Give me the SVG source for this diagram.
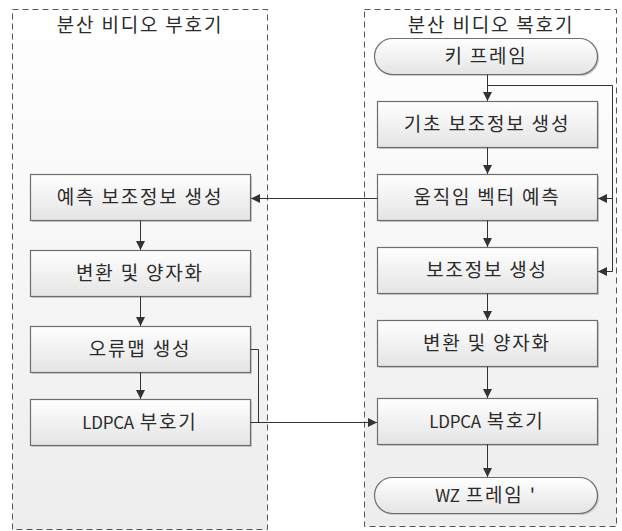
<svg xmlns="http://www.w3.org/2000/svg" width="622" height="531" viewBox="0 0 622 531">
<defs>
<linearGradient id="gBox" x1="0" y1="0" x2="0" y2="1">
<stop offset="0" stop-color="#ffffff"/>
<stop offset="1" stop-color="#e4e4e4"/>
</linearGradient>
<linearGradient id="gCont" x1="0" y1="0" x2="0" y2="1">
<stop offset="0" stop-color="#ffffff"/>
<stop offset="1" stop-color="#ededed"/>
</linearGradient>
<marker id="arr" viewBox="0 0 10 10" refX="10" refY="5" markerWidth="9" markerHeight="9" markerUnits="userSpaceOnUse" orient="auto">
<path d="M0,0 L10,5 L0,10 z" fill="#333"/>
</marker>
</defs>
<style>
.cont{fill:url(#gCont);stroke:#555;stroke-width:1;stroke-dasharray:6 4}
.box{fill:url(#gBox);stroke:#6e6e6e;stroke-width:1.2}
.sh{fill:#c8c8c8}
.t{font-family:"Noto Sans CJK KR","Noto Sans",sans-serif;font-size:19px;fill:#2b2b2b;text-anchor:middle;letter-spacing:1.8px}
.lat{font-size:17px;letter-spacing:-0.3px}
.c{fill:none;stroke:#333;stroke-width:1}
</style>
<g id="encoder">
<rect class="cont" x="12.5" y="9.5" width="255" height="520"/>
<text class="t" x="140" y="32">분산 비디오 부호기</text>
</g>
<g id="decoder">
<rect class="cont" x="364.5" y="9.5" width="252" height="517"/>
<text class="t" x="491" y="32">분산 비디오 복호기</text>
</g>
<g id="e1"><rect class="sh" x="32" y="176" width="220" height="46"/><rect class="box" x="30.5" y="174.5" width="220" height="46"/><text class="t" x="140" y="204">예측 보조정보 생성</text></g>
<g id="e2"><rect class="sh" x="32" y="252" width="220" height="46"/><rect class="box" x="30.5" y="250.5" width="220" height="46"/><text class="t" x="140" y="280">변환 및 양자화</text></g>
<g id="e3"><rect class="sh" x="32" y="328" width="220" height="46"/><rect class="box" x="30.5" y="326.5" width="220" height="46"/><text class="t" x="140" y="356">오류맵 생성</text></g>
<g id="e4"><rect class="sh" x="32" y="401" width="220" height="46"/><rect class="box" x="30.5" y="399.5" width="220" height="46"/><text class="t" x="140" y="429"><tspan class="lat">LDPCA</tspan> 부호기</text></g>
<g id="d0"><rect class="sh" x="376" y="40" width="223" height="36" rx="18"/><rect class="box" x="374.5" y="38.5" width="223" height="36" rx="18"/><text class="t" x="486" y="63">키 프레임</text></g>
<g id="d1"><rect class="sh" x="379" y="103" width="220" height="46"/><rect class="box" x="377.5" y="101.5" width="220" height="46"/><text class="t" x="487" y="131">기초 보조정보 생성</text></g>
<g id="d2"><rect class="sh" x="379" y="176" width="220" height="46"/><rect class="box" x="377.5" y="174.5" width="220" height="46"/><text class="t" x="487" y="204">움직임 벡터 예측</text></g>
<g id="d3"><rect class="sh" x="379" y="249" width="220" height="46"/><rect class="box" x="377.5" y="247.5" width="220" height="46"/><text class="t" x="487" y="277">보조정보 생성</text></g>
<g id="d4"><rect class="sh" x="379" y="322" width="220" height="46"/><rect class="box" x="377.5" y="320.5" width="220" height="46"/><text class="t" x="487" y="350">변환 및 양자화</text></g>
<g id="d5"><rect class="sh" x="379" y="400" width="220" height="46"/><rect class="box" x="377.5" y="398.5" width="220" height="46"/><text class="t" x="487" y="428"><tspan class="lat">LDPCA</tspan> 복호기</text></g>
<g id="d6"><rect class="sh" x="376" y="479" width="223" height="36" rx="18"/><rect class="box" x="374.5" y="477.5" width="223" height="36" rx="18"/><text class="t" x="486" y="502"><tspan class="lat">WZ</tspan> 프레임 '</text></g>
<g id="connectors">
<path class="c" d="M140.5,220.5 V250" marker-end="url(#arr)"/>
<path class="c" d="M140.5,296.5 V326" marker-end="url(#arr)"/>
<path class="c" d="M140.5,372.5 V399" marker-end="url(#arr)"/>
<path class="c" d="M250.5,349.5 H258.5 V422.5"/>
<path class="c" d="M250.5,422.5 H377" marker-end="url(#arr)"/>
<path class="c" d="M377.5,198.5 H251" marker-end="url(#arr)"/>
<path class="c" d="M487.5,74.5 V101" marker-end="url(#arr)"/>
<path class="c" d="M487.5,85.5 H612.5 V271.5 H598" marker-end="url(#arr)"/>
<path class="c" d="M612.5,198.5 H598" marker-end="url(#arr)"/>
<path class="c" d="M487.5,147.5 V174" marker-end="url(#arr)"/>
<path class="c" d="M487.5,220.5 V247" marker-end="url(#arr)"/>
<path class="c" d="M487.5,293.5 V320" marker-end="url(#arr)"/>
<path class="c" d="M487.5,366.5 V398" marker-end="url(#arr)"/>
<path class="c" d="M487.5,444.5 V477" marker-end="url(#arr)"/>
</g>
</svg>
